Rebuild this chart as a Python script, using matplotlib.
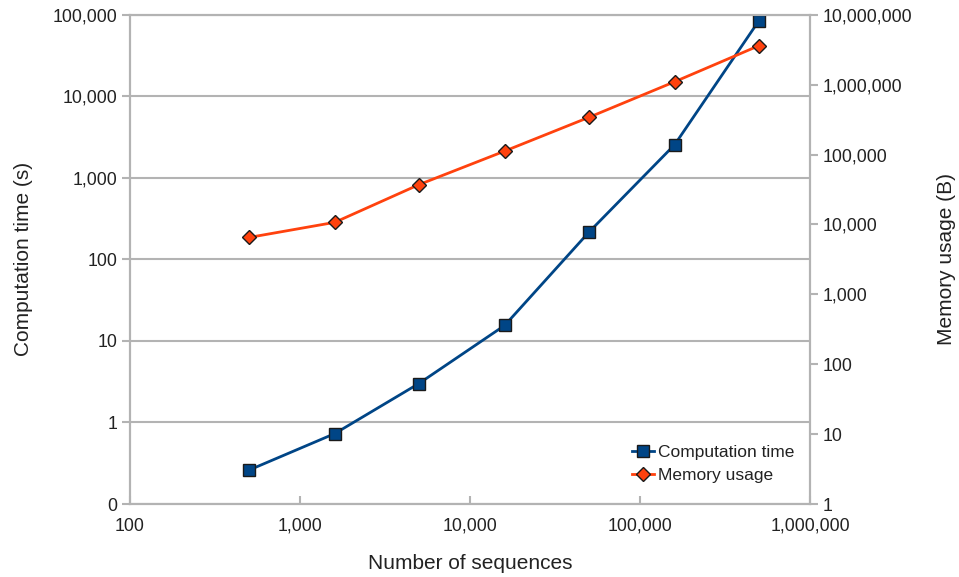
import matplotlib.pyplot as plt
from matplotlib.ticker import FuncFormatter, NullLocator

plt.rcParams['font.family'] = ['Liberation Sans', 'DejaVu Sans']

# Benchmark results
sequences = [500, 1600, 5000, 16000, 50000, 160000, 500000]
comp_time = [0.26, 0.73, 3.0, 15.5, 215, 2550, 84000]          # seconds
memory = [6500, 10700, 37000, 112000, 340000, 1100000, 3600000]  # bytes

grid_col = '#b3b3b3'
text_col = '#222222'
blue = '#004586'
orange = '#ff420e'

fmt = FuncFormatter(lambda v, pos: '{:,.0f}'.format(v))

fig = plt.figure(figsize=(9.59, 5.77), dpi=100)
ax = fig.add_axes([0.1356, 0.1265, 0.709, 0.848])
ax2 = ax.twinx()
ax2.xaxis.set_visible(False)

ax.set_xscale('log')
ax.set_yscale('log')
ax2.set_yscale('log')
ax.set_xlim(100, 1000000)
ax.set_ylim(0.1, 100000)
ax2.set_ylim(1, 10000000)

# one tick per decade, only inside the limits
ax.set_xticks([10.0 ** k for k in range(2, 7)])
ax.set_yticks([10.0 ** k for k in range(-1, 6)])
ax2.set_yticks([10.0 ** k for k in range(0, 8)])

for a in (ax, ax2):
    for s in a.spines.values():
        s.set_color(grid_col)
        s.set_linewidth(1.5)
    a.yaxis.set_minor_locator(NullLocator())
    a.yaxis.set_major_formatter(fmt)
ax.xaxis.set_minor_locator(NullLocator())
ax.xaxis.set_major_formatter(fmt)

ax.yaxis.grid(True, color=grid_col, linewidth=1.5)
ax.set_axisbelow(True)

ax.tick_params(axis='y', direction='out', length=6, width=1.5, color=grid_col,
               labelsize=12.8, labelcolor=text_col, pad=3)
ax.tick_params(axis='x', direction='in', length=6, width=1.5, color=grid_col,
               labelsize=12.8, labelcolor=text_col, pad=10)
ax2.tick_params(axis='y', direction='out', length=6, width=1.5, color=grid_col,
                labelsize=12.8, labelcolor=text_col, pad=3)

l1, = ax.plot(sequences, comp_time, color=blue, linewidth=2, marker='s',
              markersize=8, markerfacecolor=blue, markeredgecolor='#1a1a1a',
              markeredgewidth=1, label='Computation time', zorder=4)
l2, = ax2.plot(sequences, memory, color=orange, linewidth=2, marker='D',
               markersize=7, markerfacecolor=orange, markeredgecolor='#1a1a1a',
               markeredgewidth=1, label='Memory usage', zorder=3)

ax.set_xlabel('Number of sequences', fontsize=15, color=text_col, labelpad=14)
ax.set_ylabel('Computation time (s)', fontsize=15, color=text_col, labelpad=14)
ax2.set_ylabel('Memory usage (B)', fontsize=15, color=text_col, labelpad=18)

ax2.legend([l1, l2], ['Computation time', 'Memory usage'], loc='lower right',
           frameon=False, fontsize=12.5, handlelength=1.3, handletextpad=0.2,
           labelspacing=0.5, bbox_to_anchor=(1.0, 0.01),
           labelcolor=text_col)

fig.savefig('out.png', dpi=100)
